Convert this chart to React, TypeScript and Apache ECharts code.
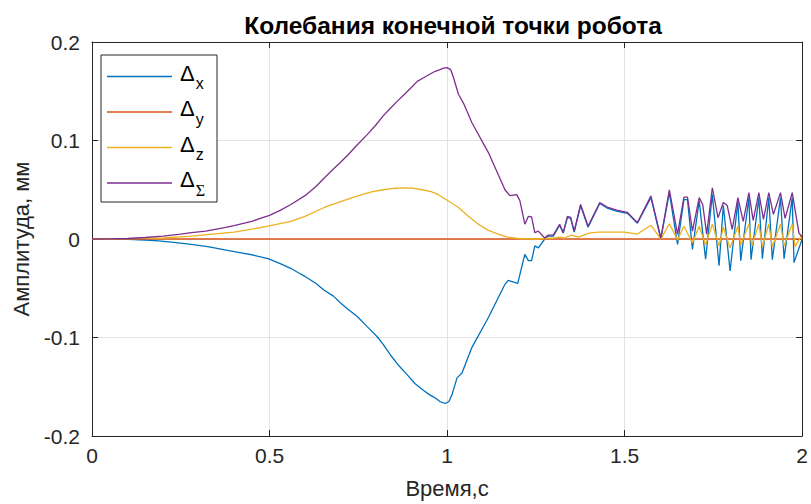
import React, { useEffect, useRef } from 'react';
import * as echarts from 'echarts';

const titleText = 'Колебания конечной точки робота';
const xName = 'Время,с';
const yName = 'Амплитуда, мм';
const seriesNames = ['Δx', 'Δy', 'Δz', 'ΔΣ'];
const seriesColors = ['#0072BD', '#D95319', '#EDB120', '#7E2F8E'];
const yTickLabels: Record<string, string> = { '-0.2': '-0.2', '-0.1': '-0.1', '0': '0', '0.1': '0.1', '0.2': '0.2' };

const dxData: [number, number][] = [
  [0, 0], [0.05, 0], [0.1, -0.0003], [0.15, -0.001], [0.187, -0.002], [0.23, -0.0035], [0.28, -0.0054],
  [0.33, -0.008], [0.374, -0.011], [0.42, -0.014], [0.45, -0.016], [0.496, -0.02], [0.53, -0.025],
  [0.561, -0.03], [0.58, -0.034], [0.6, -0.038], [0.63, -0.045], [0.654, -0.052], [0.68, -0.058],
  [0.7, -0.065], [0.72, -0.071], [0.748, -0.079], [0.775, -0.089], [0.804, -0.0995], [0.82, -0.107],
  [0.841, -0.118], [0.865, -0.129], [0.888, -0.138], [0.91, -0.147], [0.935, -0.154], [0.95, -0.158],
  [0.965, -0.161], [0.98, -0.165], [0.995, -0.167],
  [1.005, -0.165], [1.014, -0.158], [1.028, -0.141], [1.042, -0.136], [1.07, -0.11], [1.116, -0.08],
  [1.163, -0.046], [1.172, -0.042], [1.199, -0.045], [1.219, -0.0156], [1.229, -0.022], [1.238, -0.022],
  [1.247, -0.007], [1.257, -0.009], [1.275, 0], [1.285, 0.003], [1.299, 0.003], [1.317, 0.014],
  [1.327, 0.006], [1.339, 0.022], [1.348, 0.021], [1.358, 0.007], [1.376, 0.034], [1.397, 0.012],
  [1.43, 0.036], [1.453, 0.031], [1.48, 0.028], [1.508, 0.026], [1.536, 0.016], [1.574, 0.042],
  [1.602, 0], [1.626, 0.047], [1.649, -0.0054], [1.667, 0.04], [1.677, 0.04], [1.691, -0.0105],
  [1.71, 0.039], [1.728, -0.0206], [1.747, 0.045], [1.766, -0.027], [1.778, 0.034], [1.797, -0.0325],
  [1.819, 0.038], [1.827, -0.022], [1.85, 0.042], [1.856, -0.021], [1.878, 0.042], [1.888, -0.02],
  [1.906, 0.042], [1.916, -0.021], [1.939, 0.042], [1.949, -0.02], [1.972, 0.042], [1.977, -0.024],
  [2.0, 0.0],
];

const dyData: [number, number][] = [[0, 0], [2, 0]];

const dzData: [number, number][] = [
  [0, 0], [0.1, 0.0003], [0.2, 0.001], [0.28, 0.003], [0.34, 0.005], [0.4, 0.007], [0.45, 0.01],
  [0.496, 0.013], [0.56, 0.018], [0.6, 0.023], [0.654, 0.032], [0.7, 0.038], [0.748, 0.0437],
  [0.79, 0.048], [0.82, 0.05], [0.85, 0.0515], [0.879, 0.052], [0.905, 0.0515], [0.93, 0.05],
  [0.955, 0.048], [0.976, 0.045], [1.01, 0.037], [1.032, 0.032], [1.045, 0.028], [1.06, 0.023],
  [1.088, 0.015], [1.115, 0.009], [1.144, 0.005], [1.17, 0.002], [1.2, 0.0005], [1.25, 0],
  [1.3, 0.001], [1.32, 0.002], [1.33, 0.001], [1.35, 0.004], [1.37, 0.002], [1.4, 0.006],
  [1.425, 0.007], [1.45, 0.007], [1.5, 0.007], [1.536, 0.005], [1.574, 0.014], [1.602, 0],
  [1.626, 0.0155], [1.649, -0.001], [1.667, 0.013], [1.691, -0.004], [1.71, 0.013], [1.728, -0.006],
  [1.747, 0.015], [1.766, -0.007], [1.778, 0.012], [1.797, -0.009], [1.819, 0.013], [1.827, -0.006],
  [1.85, 0.015], [1.858, -0.007], [1.878, 0.015], [1.888, -0.008], [1.906, 0.015], [1.916, -0.008],
  [1.939, 0.015], [1.949, -0.007], [1.972, 0.015], [1.98, -0.008], [2.0, 0.005],
];

const dsData: [number, number][] = [
  [0, 0], [0.05, 0.0001], [0.1, 0.0005], [0.15, 0.0015], [0.2, 0.003], [0.25, 0.005], [0.28, 0.0064],
  [0.32, 0.008], [0.373, 0.0115], [0.4, 0.0135], [0.45, 0.018], [0.5, 0.024], [0.53, 0.029],
  [0.56, 0.035], [0.6, 0.044], [0.63, 0.053], [0.654, 0.062], [0.68, 0.071], [0.7, 0.078],
  [0.72, 0.085], [0.748, 0.096], [0.775, 0.106], [0.8, 0.116], [0.82, 0.125], [0.841, 0.133],
  [0.86, 0.14], [0.88, 0.147], [0.9, 0.154], [0.916, 0.16], [0.935, 0.164], [0.95, 0.167],
  [0.965, 0.17], [0.98, 0.172], [0.99, 0.1735], [1.0, 0.174],
  [1.01, 0.172], [1.018, 0.164], [1.032, 0.147], [1.046, 0.138], [1.07, 0.118], [1.116, 0.088],
  [1.163, 0.05], [1.177, 0.044], [1.196, 0.045], [1.205, 0.039], [1.219, 0.015], [1.229, 0.023],
  [1.238, 0.0225], [1.247, 0.0064], [1.257, 0.008], [1.275, 0.001], [1.285, 0.004], [1.299, 0.004],
  [1.317, 0.015], [1.327, 0.0064], [1.339, 0.023], [1.348, 0.022], [1.358, 0.008], [1.376, 0.035],
  [1.397, 0.013], [1.43, 0.037], [1.453, 0.032], [1.48, 0.029], [1.508, 0.027], [1.536, 0.0166],
  [1.574, 0.0437], [1.602, 0.001], [1.626, 0.05], [1.649, 0.005], [1.667, 0.0426], [1.677, 0.0426],
  [1.691, 0.008], [1.71, 0.042], [1.72, 0.035], [1.731, 0.005], [1.747, 0.052], [1.763, 0.0216],
  [1.778, 0.037], [1.789, 0.034], [1.803, 0.0098], [1.819, 0.042], [1.834, 0.018], [1.85, 0.047],
  [1.862, 0.019], [1.878, 0.047], [1.891, 0.02], [1.906, 0.047], [1.919, 0.025], [1.939, 0.047],
  [1.952, 0.021], [1.972, 0.047], [1.991, 0.006], [2.0, 0.002],
];

const allData = [dxData, dyData, dzData, dsData];
const FONT = "'Liberation Sans', Arial, Helvetica, sans-serif";

export default function App() {
  const ref = useRef<HTMLDivElement>(null);
  useEffect(() => {
    if (!ref.current) return;
    const chart = echarts.init(ref.current, undefined, { renderer: 'svg' });
    const axisColor = '#262626';
    const gridColor = '#e3e3e3';
    chart.setOption({
      animation: false,
      backgroundColor: '#ffffff',
      title: {
        text: titleText,
        left: 448,
        textAlign: 'center',
        top: 8,
        textStyle: { fontFamily: FONT, fontSize: 24.5, fontWeight: 'bold', color: '#000' },
      },
      grid: { left: 92, right: 6, top: 42, bottom: 68, containLabel: false },
      legend: {
        orient: 'vertical',
        left: 101,
        top: 55,
        padding: [7, 12, 4, 6],
        itemGap: 6,
        itemWidth: 65,
        itemHeight: 1.5,
        icon: 'rect',
        borderColor: axisColor,
        borderWidth: 1,
        backgroundColor: '#fff',
        data: seriesNames,
        formatter: (name: string) => {
          const sub = name.slice(1);
          return sub === 'Σ' ? `{d|Δ}{g|${sub}}` : `{d|Δ}{s|${sub}}`;
        },
        textStyle: {
          rich: {
            d: { fontFamily: FONT, fontSize: 22, color: '#000', padding: [0, 0, 7, 3], verticalAlign: 'middle' },
            s: { fontFamily: FONT, fontSize: 16, color: '#000', padding: [14, 0, 0, 1], verticalAlign: 'middle' },
            g: { fontFamily: "'Liberation Serif', 'Times New Roman', serif", fontSize: 16, color: '#000', padding: [14, 0, 0, 1], verticalAlign: 'middle' },
          },
        },
      },
      xAxis: [
        {
          type: 'value', min: 0, max: 2, interval: 0.5,
          name: xName, nameLocation: 'middle', nameGap: 41,
          nameTextStyle: { fontFamily: FONT, fontSize: 22, color: '#262626' },
          axisLine: { show: true, onZero: false, lineStyle: { color: axisColor, width: 1 } },
          axisTick: { show: true, inside: true, length: 6, lineStyle: { color: axisColor } },
          axisLabel: { fontFamily: FONT, fontSize: 21, color: '#262626', margin: 9 },
          splitLine: { show: true, lineStyle: { color: gridColor, width: 1 } },
        },
        {
          type: 'value', min: 0, max: 2, interval: 0.5, position: 'top',
          axisLine: { show: true, onZero: false, lineStyle: { color: axisColor, width: 1 } },
          axisTick: { show: true, inside: true, length: 6, lineStyle: { color: axisColor } },
          axisLabel: { show: false },
          splitLine: { show: false },
        },
      ],
      yAxis: [
        {
          type: 'value', min: -0.2, max: 0.2, interval: 0.1,
          name: yName, nameLocation: 'middle', nameGap: 58,
          nameTextStyle: { fontFamily: FONT, fontSize: 22, color: '#262626' },
          axisLine: { show: true, onZero: false, lineStyle: { color: axisColor, width: 1 } },
          axisTick: { show: true, inside: true, length: 6, lineStyle: { color: axisColor } },
          axisLabel: {
            fontFamily: FONT, fontSize: 21, color: '#262626', margin: 12,
            formatter: (v: number) => yTickLabels[String(Math.round(v * 10) / 10)] ?? String(v),
          },
          splitLine: { show: true, lineStyle: { color: gridColor, width: 1 } },
        },
        {
          type: 'value', min: -0.2, max: 0.2, interval: 0.1, position: 'right',
          axisLine: { show: true, onZero: false, lineStyle: { color: axisColor, width: 1 } },
          axisTick: { show: true, inside: true, length: 6, lineStyle: { color: axisColor } },
          axisLabel: { show: false },
          splitLine: { show: false },
        },
      ],
      series: seriesNames.map((n, i) => ({
        name: n,
        type: 'line',
        xAxisIndex: 0,
        yAxisIndex: 0,
        data: allData[i],
        symbol: 'none',
        showSymbol: false,
        color: seriesColors[i],
        lineStyle: { color: seriesColors[i], width: 1.3 },
        z: 2 + i,
      })),
    });
    return () => chart.dispose();
  }, []);
  return <div ref={ref} style={{ width: 811, height: 504, position: 'absolute', left: 0, top: 0 }} />;
}
